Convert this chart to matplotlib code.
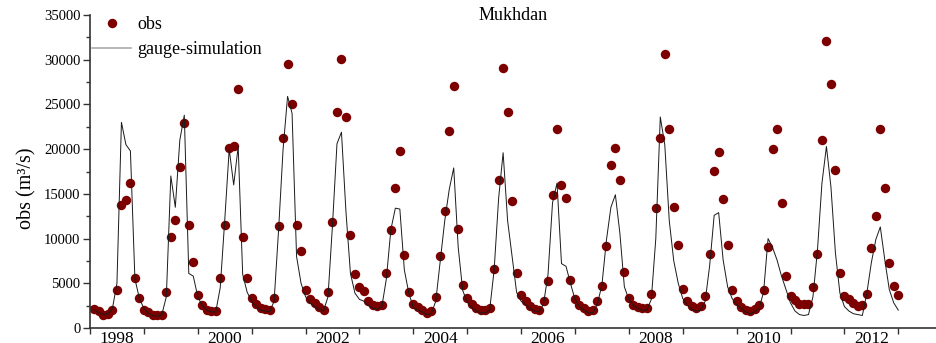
import numpy as np
import matplotlib
matplotlib.use("Agg")
import matplotlib.pyplot as plt
from matplotlib.ticker import MultipleLocator, FixedLocator, NullFormatter

plt.rcParams['font.family'] = ['Liberation Serif', 'DejaVu Serif']

# monthly discharge, Jan 1998 - Dec 2012
obs = [
    2100, 1900, 1500, 1600, 2000, 4300, 13800, 14300, 16200, 5600, 3400, 2000,    # 1998
    1750, 1500, 1400, 1500, 4000, 10200, 12100, 18000, 22900, 11500, 7400, 3700,  # 1999
    2600, 2000, 1900, 1900, 5600, 11500, 20100, 20300, 26700, 10200, 5600, 3400,  # 2000
    2700, 2200, 2100, 2000, 3400, 11400, 21200, 29500, 25000, 11500, 8600, 4300,  # 2001
    3200, 2800, 2400, 2000, 4000, 11800, 24100, 30100, 23600, 10400, 6000, 4600,  # 2002
    4100, 3000, 2600, 2500, 2600, 6100, 11000, 15600, 19800, 8200, 4000, 2700,    # 2003
    2400, 2000, 1700, 1900, 3500, 8000, 13100, 22000, 27100, 11100, 4800, 3400,   # 2004
    2700, 2200, 2000, 2000, 2200, 6600, 16600, 29100, 24100, 14200, 6200, 3700,   # 2005
    3000, 2500, 2100, 2000, 3000, 5300, 14900, 22300, 16000, 14500, 5400, 3200,   # 2006
    2600, 2200, 1900, 2000, 3000, 4700, 9200, 18200, 20100, 16600, 6300, 3400,    # 2007
    2600, 2400, 2200, 2200, 3800, 13400, 21200, 30600, 22200, 13500, 9300, 4400,  # 2008
    3000, 2500, 2200, 2500, 3600, 8300, 17600, 19700, 14400, 9300, 4300, 3000,    # 2009
    2400, 2000, 1900, 2100, 2600, 4300, 9100, 20000, 22200, 14000, 5800, 3600,    # 2010
    3100, 2700, 2700, 2700, 4600, 8300, 21000, 32100, 27300, 17700, 6200, 3600,   # 2011
    3200, 2800, 2500, 2600, 3800, 9000, 12500, 22300, 15600, 7300, 4700, 3700,    # 2012
]

sim = [
    2000, 1700, 1500, 1600, 2200, 5000, 23000, 20500, 19800, 5500, 3300, 2200,    # 1998
    1600, 1400, 1300, 1500, 3500, 17000, 13500, 21000, 23800, 6100, 5800, 3500,   # 1999
    2500, 2000, 1800, 1800, 4500, 12000, 20000, 16000, 20300, 6000, 4000, 3000,   # 2000
    2400, 2000, 1900, 1800, 3000, 11000, 20000, 25900, 24000, 8000, 5000, 3500,   # 2001
    2800, 2400, 2100, 1900, 3500, 11500, 20600, 21900, 13000, 6100, 3900, 3200,   # 2002
    3000, 2500, 2200, 2100, 2400, 5500, 11000, 13400, 13300, 6500, 3900, 2300,    # 2003
    2000, 1800, 1500, 1600, 3000, 7500, 12000, 15500, 17900, 9000, 4200, 2900,    # 2004
    2300, 1900, 1700, 1700, 2000, 6500, 14500, 19600, 12000, 8000, 4000, 3000,    # 2005
    2600, 2200, 1900, 1800, 2700, 6000, 14000, 16200, 7200, 6900, 5000, 3200,     # 2006
    2400, 2000, 1700, 1700, 2700, 4800, 9800, 13500, 14900, 10600, 4600, 3200,    # 2007
    2500, 2200, 2000, 2000, 3200, 10000, 23600, 20500, 12000, 7500, 5000, 3300,   # 2008
    2600, 2100, 1900, 2000, 3000, 7000, 12600, 12900, 7600, 4600, 3300, 2600,     # 2009
    2200, 1800, 1600, 1800, 2200, 4000, 10000, 9000, 7600, 5800, 4300, 2800,      # 2010
    1900, 1500, 1400, 1500, 3500, 8700, 16200, 20300, 15800, 8400, 3900, 2400,    # 2011
    1900, 1600, 1500, 1400, 3900, 7300, 9900, 11300, 7600, 4300, 2800, 2000,      # 2012
]

year_labels = ['1998', '2000', '2002', '2004', '2006', '2008', '2010', '2012']

t = 1998 + (np.arange(len(obs)) + 1) / 12.0

fig = plt.figure(figsize=(9.36, 3.43), dpi=100)
ax = fig.add_axes([90 / 936, 15 / 343, 846 / 936, 313 / 343])

ax.plot(t, obs, 'o', color='#7d0000', markersize=6.8, markeredgewidth=0,
        label='obs', zorder=2)
ax.plot(t, sim, '-', color='#1a1a1a', lw=0.7, label='gauge-simulation', zorder=3)

ax.set_xlim(1998.0, 2013.70)
ax.set_ylim(0, 35000)

# year boundaries as ticks, labels centred in the middle of the year
ax.xaxis.set_major_locator(MultipleLocator(1))
ax.xaxis.set_major_formatter(NullFormatter())
ax.xaxis.set_minor_locator(FixedLocator([int(y) + 0.5 for y in year_labels]))
ax.xaxis.set_minor_formatter(plt.FixedFormatter(year_labels))
ax.tick_params(axis='x', which='major', direction='out', length=4, width=1, color='#333333')
ax.tick_params(axis='x', which='minor', length=0, pad=2, labelsize=12.5)

ax.yaxis.set_major_locator(MultipleLocator(5000))
ax.yaxis.set_minor_locator(MultipleLocator(2500))
ax.tick_params(axis='y', which='major', direction='out', length=5, width=1,
               color='#333333', labelsize=10.5, pad=2)
ax.tick_params(axis='y', which='minor', direction='out', length=3, width=1, color='#333333')

for side in ['top', 'right']:
    ax.spines[side].set_visible(False)
for side in ['left', 'bottom']:
    ax.spines[side].set_color('#333333')
    ax.spines[side].set_linewidth(1.2)

ax.set_ylabel('obs (m³/s)', fontsize=14.5)
ax.yaxis.set_label_coords(-0.063, 0.447)

ax.text(0.5, 1.0, 'Mukhdan', transform=ax.transAxes, ha='center', va='center',
        fontsize=13)

leg = ax.legend(loc='upper left', bbox_to_anchor=(-0.006, 1.02), frameon=False,
                fontsize=13, handlelength=2.15, handletextpad=0.35, labelspacing=0.45,
                borderaxespad=0.0)
leg.get_lines()[1].set_color('#aaaaaa')
leg.get_lines()[1].set_linewidth(1.2)

fig.savefig('out.png', dpi=100)
